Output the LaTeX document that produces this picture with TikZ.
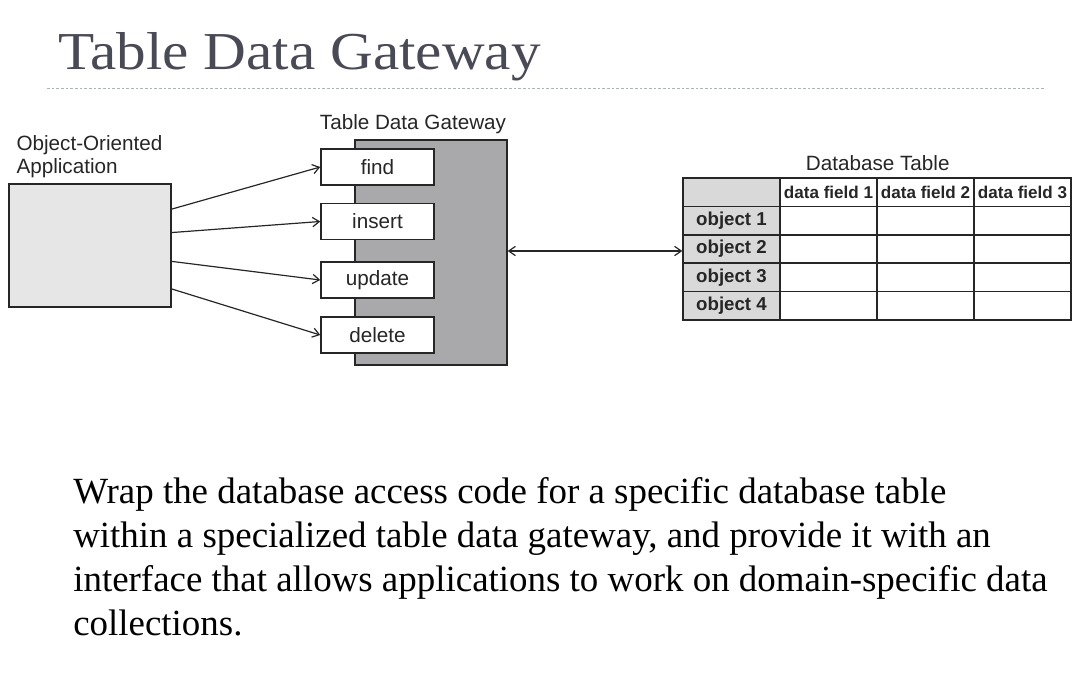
\documentclass[tikz,border=0pt]{standalone}
\usepackage{fontspec}
\setmainfont{Liberation Serif}
\setsansfont{Liberation Sans}
\usetikzlibrary{positioning}
\usetikzlibrary{arrows.meta}
\definecolor{titlegray}{HTML}{4A4A56}
\definecolor{rulegray}{HTML}{AAB3BE}
\definecolor{appgray}{HTML}{E6E6E6}
\definecolor{gwgray}{HTML}{A9A9AB}
\definecolor{cellgray}{HTML}{D9D9D9}
\definecolor{ink}{HTML}{262626}
\tikzset{lbl/.style = {font=\sffamily\fontsize{15.5}{17}\selectfont, text=ink, inner sep=0}}
\tikzset{method/.style = {draw=ink, fill=white, line width=1.1pt, minimum width=84.75pt,
                          minimum height=27pt, inner sep=0, lbl}}
\tikzset{arr/.style = {-{Straight Barb[length=5pt, width=7pt]}, line width=0.9pt, draw=ink}}
\tikzset{cell/.style = {draw=ink, line width=1.1pt, minimum width=72.75pt,
                        minimum height=21.3pt, inner sep=0, text=ink}}
\tikzset{rowhead/.style = {cell, fill=cellgray, font=\sffamily\bfseries\fontsize{14}{16}\selectfont}}
\tikzset{colhead/.style = {cell, fill=white, font=\sffamily\bfseries\fontsize{12.8}{15}\selectfont}}

\begin{document}
\begin{tikzpicture}[x=0.75pt, y=-0.75pt]
  \useasboundingbox (0, 0) rectangle (1081, 698);
  % title
  \node[anchor=base west, inner sep=0, text=titlegray, xscale=1.11,
        font=\fontsize{40}{45}\selectfont] (title) at (58, 70) {Table Data Gateway};
  \draw[rulegray, line width=0.6pt, dash pattern=on 2pt off 1.5pt] (47, 88) -- (1045, 88);

  % application
  \node[draw=ink, fill=appgray, line width=1.1pt, minimum width=121.5pt,
        minimum height=92.25pt] (app) at (90, 245.5) {};
  \node[lbl, align=left, anchor=south west, above right=4pt and 6pt of app.north west]
        (applbl) {Object-Oriented\\Application};

  % gateway
  \node[draw=ink, fill=gwgray, line width=1.1pt, minimum width=114pt,
        minimum height=168.75pt] (gw) at (431, 252.5) {};
  \node[lbl] (gwlbl) at (413, 124) {Table Data Gateway};
  \node[method] (find)   at (377.5, 167)   {find};
  \node[method] (insert) at (377.5, 221.5) {insert};
  \node[method] (update) at (377.5, 280)   {update};
  \node[method] (delete) at (377.5, 335)   {delete};

  \draw[arr] (app.24)  -- (find.west);
  \draw[arr] (app.9)   -- (insert.west);
  \draw[arr] (app.-11) -- (update.west);
  \draw[arr] (app.-28) -- (delete.west);

  % database table
  \foreach \r/\txt in {0/{}, 1/object 1, 2/object 2, 3/object 3, 4/object 4}
    \node[rowhead] (cell-\r-0) at (731.5, 192.2+28.4*\r) {\txt};
  \foreach \c in {1, 2, 3}
    \node[colhead] (cell-0-\c) at (731.5+97*\c, 192.2) {data field \c};
  \foreach \r in {1, ..., 4}
    \foreach \c in {1, 2, 3}
      \node[cell] (cell-\r-\c) at (731.5+97*\c, 192.2+28.4*\r) {};
  \node[lbl, above=5pt of cell-0-1.north east] (dblbl) {Database Table};

  \draw[{Straight Barb[length=5pt, width=7pt]}-{Straight Barb[length=5pt, width=7pt]},
        line width=0.9pt, ink] (gw.east |- 0, 251) -- (cell-2-0.west |- 0, 251);

  % description
  \node[anchor=north west, inner sep=0, align=left,
        font=\fontsize{27.7}{33}\selectfont] (desc) at (73, 477)
    {Wrap the database access code for a specific database table\\
     within a specialized table data gateway, and provide it with an\\
     interface that allows applications to work on domain-specific data\\
     collections.};
\end{tikzpicture}
\end{document}
